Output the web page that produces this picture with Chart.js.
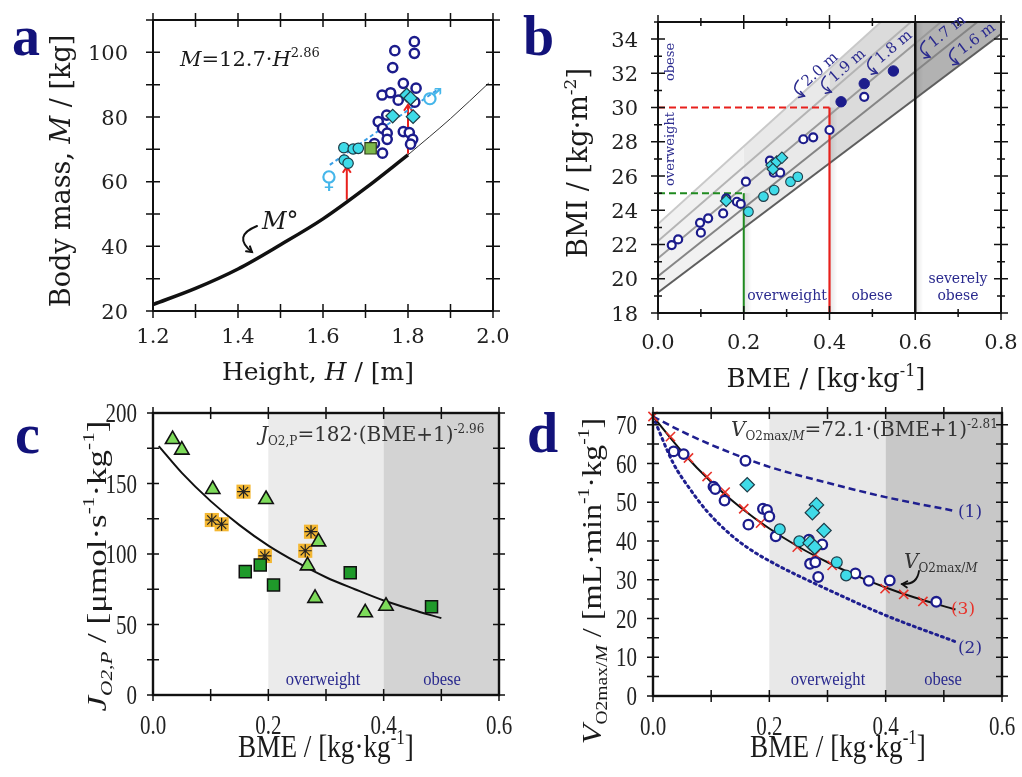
<!DOCTYPE html>
<html>
<head>
<meta charset="utf-8">
<script src="https://cdn.jsdelivr.net/npm/chart.js@4.4.1/dist/chart.umd.min.js"></script>
<style>
  html, body { margin: 0; background: #fff; }
  #wrap { position: relative; width: 1022px; height: 777px; overflow: hidden; background: #fff; }
  canvas { position: absolute; left: 0; top: 0; }
</style>
</head>
<body>
<div id="wrap">
  <canvas id="chartA" width="1022" height="777"></canvas>
  <canvas id="chartB" width="1022" height="777"></canvas>
  <canvas id="chartC" width="1022" height="777"></canvas>
  <canvas id="chartD" width="1022" height="777"></canvas>
</div>
<script>
// ---- panel a: body mass vs height ----
const aXTicks = [1.2, 1.3, 1.4, 1.5, 1.6, 1.7, 1.8, 1.9, 2.0];
const aXLabels = ['1.2', '1.4', '1.6', '1.8', '2.0'];
const aYTicks = [20, 30, 40, 50, 60, 70, 80, 90, 100, 110];
const aYLabels = ['20', '40', '60', '80', '100'];
const aCurveH = [1.2, 1.3, 1.4, 1.5, 1.6, 1.7, 1.8];
const aCurveM = [22, 27, 33, 40.5, 48.5, 58, 68.3];
const aTailH = [1.8, 1.9, 1.99];
const aTailM = [68.3, 79.5, 90.5];
const aOpenH = [1.815, 1.769, 1.815, 1.764, 1.789, 1.739, 1.759, 1.819, 1.777, 1.816, 1.75, 1.73, 1.74, 1.751, 1.751, 1.789, 1.803, 1.811, 1.806, 1.721, 1.74];
const aOpenM = [103.3, 100.5, 99.7, 95.3, 90.4, 86.8, 87.5, 88.9, 85.2, 84.6, 80.6, 78.6, 76.5, 75, 73.1, 75.5, 75.2, 73.1, 71.6, 71.8, 68.8];
const aDiamondH = [1.797, 1.806, 1.764, 1.812];
const aDiamondM = [86.8, 85.8, 80.3, 80.1];
const aCyanH = [1.649, 1.671, 1.683, 1.65, 1.659];
const aCyanM = [70.5, 70.1, 70.3, 66.7, 65.7];
const aSquareH = [1.712];
const aSquareM = [70.3];
const aTrendH = [1.616, 1.871];
const aTrendM = [65.2, 88.6];
const aArrowH = [1.656, 1.8];
const aArrowFrom = [54.4, 68.6];
const aArrowTo = [64.6, 83.8];

// ---- panel b: BMI vs BME ----
const bXTicks = [0, 0.1, 0.2, 0.3, 0.4, 0.5, 0.6, 0.7, 0.8];
const bXLabels = ['0.0', '0.2', '0.4', '0.6', '0.8'];
const bYTicks = [18, 19, 20, 21, 22, 23, 24, 25, 26, 27, 28, 29, 30, 31, 32, 33, 34, 35];
const bYLabels = ['18', '20', '22', '24', '26', '28', '30', '32', '34'];
const bHeights = ['2.0 m', '1.9 m', '1.8 m', '1.7 m', '1.6 m'];
const bLineX = [[0, 0.52], [0, 0.59], [0, 0.66], [0, 0.745], [0, 0.8]];
const bLineY = [[23.2, 35], [22.2, 35], [21.2, 35], [20.15, 35], [19.2, 34.3]];
const bZones = [0, 0.2, 0.4, 0.6, 0.8];
const bCutX = [0.2, 0.4];
const bCutY = [25, 30];
const bSevere = 0.6;
const bOpenX = [0.032, 0.047, 0.098, 0.117, 0.1, 0.152, 0.184, 0.193, 0.205, 0.261, 0.27, 0.285, 0.339, 0.362, 0.4, 0.481, 0.159];
const bOpenY = [21.97, 22.3, 23.27, 23.53, 22.69, 23.82, 24.5, 24.37, 25.67, 26.9, 26.2, 26.2, 28.15, 28.26, 28.69, 30.63, 24.7];
const bFullX = [0.427, 0.481, 0.549];
const bFullY = [30.34, 31.4, 32.14];
const bCyanX = [0.211, 0.246, 0.271, 0.309, 0.326];
const bCyanY = [23.92, 24.8, 25.18, 25.67, 25.96];
const bDiamondX = [0.159, 0.265, 0.277, 0.289, 0.268];
const bDiamondY = [24.55, 26.64, 26.84, 27.07, 26.4];

// ---- panel c: JO2,P vs BME ----
const cXTicks = [0, 0.1, 0.2, 0.3, 0.4, 0.5, 0.6];
const cXLabels = ['0.0', '0.2', '0.4', '0.6'];
const cYTicks = [0, 25, 50, 75, 100, 125, 150, 175, 200];
const cYLabels = ['0', '50', '100', '150', '200'];
const cBands = [0.2, 0.4, 0.6];
const cFitX = [0.01, 0.05, 0.1, 0.15, 0.2, 0.25, 0.3, 0.35, 0.4, 0.45, 0.5];
const cFitY = [176.5, 157.5, 137.5, 120.5, 106, 94, 83.5, 75, 67, 60.5, 54.5];
const cTriX = [0.034, 0.05, 0.1035, 0.196, 0.287, 0.268, 0.281, 0.368, 0.404];
const cTriY = [181.3, 173.8, 145.9, 138.8, 108.7, 91.7, 68.6, 58.4, 63.1];
const cSqX = [0.16, 0.186, 0.209, 0.342, 0.483];
const cSqY = [87.5, 92.2, 78, 86.7, 62.6];
const cStarX = [0.157, 0.102, 0.119, 0.194, 0.274, 0.264];
const cStarY = [144.2, 124.1, 121.1, 98.6, 115.8, 102.3];

// ---- panel d: VO2max/M vs BME ----
const dXTicks = [0, 0.1, 0.2, 0.3, 0.4, 0.5, 0.6];
const dXLabels = ['0.0', '0.2', '0.4', '0.6'];
const dYTicks = [0, 5, 10, 15, 20, 25, 30, 35, 40, 45, 50, 55, 60, 65, 70];
const dYLabels = ['0', '10', '20', '30', '40', '50', '60', '70'];
const dBands = [0.2, 0.4, 0.6];
const dFitX = [0, 0.05, 0.1, 0.15, 0.2, 0.25, 0.3, 0.35, 0.4, 0.45, 0.52];
const dFitY = [72.1, 63, 55.2, 48.7, 43.2, 38.5, 34.5, 31, 28, 25.4, 22.3];
const d1X = [0, 0.05, 0.1, 0.15, 0.2, 0.3, 0.4, 0.52];
const d1Y = [72.1, 68.2, 64.8, 61.8, 59.1, 55, 51.3, 47.7];
const d2X = [0, 0.035, 0.064, 0.092, 0.132, 0.167, 0.213, 0.3, 0.4, 0.52];
const d2Y = [72.1, 60, 53.3, 47.8, 41.8, 37.8, 33.8, 27.5, 20.8, 14];
const dCrossX = [0, 0.03, 0.061, 0.093, 0.124, 0.156, 0.185, 0.248, 0.279, 0.308, 0.399, 0.431, 0.464];
const dCrossY = [72.1, 66.9, 61.4, 56.6, 52.6, 48.3, 44.6, 38.4, 36.5, 33.7, 27.7, 26.2, 24.4];
const dOpenX = [0.0355, 0.0527, 0.159, 0.104, 0.107, 0.123, 0.189, 0.196, 0.2, 0.164, 0.211, 0.268, 0.291, 0.27, 0.279, 0.284, 0.348, 0.371, 0.407, 0.487];
const dOpenY = [63.1, 62.4, 60.7, 54, 53.4, 50.4, 48.3, 48, 46.3, 44.2, 41.2, 40.3, 39.1, 34.1, 34.5, 30.7, 31.6, 29.7, 29.8, 24.3];
const dCyanX = [0.218, 0.2515, 0.316, 0.332];
const dCyanY = [43, 39.9, 34.5, 31.1];
const dDiamondX = [0.162, 0.281, 0.274, 0.294, 0.27, 0.278];
const dDiamondY = [54.5, 49.3, 47.3, 42.7, 39.5, 38.4];

const W = 1022, H = 777;
const SERIF = '"DejaVu Serif", serif';
const TIMES = '"Liberation Serif", serif';
const NAVY = '#1c1c8c';
const CYAN = '#3fdbe8';
const INK = '#1a1a1a';

const pts = (xs, ys) => xs.map((x, i) => ({ x, y: ys[i] }));

function lineDs(xs, ys, color, width, extra) {
  return Object.assign({ data: pts(xs, ys), showLine: true, borderColor: color, borderWidth: width,
    pointRadius: 0, fill: false }, extra || {});
}
function markDs(xs, ys, style, r, bg, border, bw) {
  return { data: pts(xs, ys), showLine: false, pointStyle: style, pointRadius: r,
    backgroundColor: bg, borderColor: border, borderWidth: bw, clip: false };
}

// text with italic / sub / sup pieces: flags i = italic, d = subscript, u = superscript, B = bold
function rich(ctx, segs, x, y, o) {
  const size = o.size, fam = o.family || SERIF;
  const fontOf = f => (f.includes('i') ? 'italic ' : '') + (f.includes('B') ? 'bold ' : '') +
    Math.round((f.includes('d') || f.includes('u')) ? size * 0.62 : size) + 'px ' + fam;
  ctx.save();
  ctx.translate(x, y);
  if (o.rot) ctx.rotate(o.rot);
  if (o.sx) ctx.scale(o.sx, 1);
  let w = 0;
  const parts = segs.map(s => {
    const f = s[1] || '';
    ctx.font = fontOf(f);
    const m = ctx.measureText(s[0]).width;
    w += m;
    return { t: s[0], f, m, c: s[2] };
  });
  let cx = o.align === 'center' ? -w / 2 : o.align === 'right' ? -w : 0;
  ctx.textAlign = 'left';
  ctx.textBaseline = 'alphabetic';
  parts.forEach(p => {
    ctx.font = fontOf(p.f);
    ctx.fillStyle = p.c || o.color || INK;
    const dy = p.f.includes('d') ? size * 0.22 : p.f.includes('u') ? -size * 0.42 : 0;
    ctx.fillText(p.t, cx, dy);
    cx += p.m;
  });
  ctx.restore();
}

function hook(ctx, p, color, w) {
  ctx.save();
  ctx.strokeStyle = color;
  ctx.lineWidth = w || 1.6;
  ctx.lineCap = 'round';
  ctx.beginPath();
  ctx.moveTo(p[0], p[1]);
  ctx.quadraticCurveTo(p[2], p[3], p[4], p[5]);
  ctx.stroke();
  const ang = Math.atan2(p[5] - p[3], p[4] - p[2]), h = 6;
  ctx.beginPath();
  ctx.moveTo(p[4] - h * Math.cos(ang - 0.55), p[5] - h * Math.sin(ang - 0.55));
  ctx.lineTo(p[4], p[5]);
  ctx.lineTo(p[4] - h * Math.cos(ang + 0.55), p[5] - h * Math.sin(ang + 0.55));
  ctx.stroke();
  ctx.restore();
}

function isMajor(labels, v) {
  return labels.some(l => Math.abs(parseFloat(l) - v) < 1e-9);
}

// frame, mirrored ticks and tick labels
function drawAxes(c, xa, ya) {
  const { ctx, chartArea: a, scales: { x, y } } = c;
  ctx.save();
  ctx.strokeStyle = '#111';
  ctx.lineWidth = xa.frame;
  ctx.strokeRect(a.left, a.top, a.right - a.left, a.bottom - a.top);
  ctx.lineWidth = 1.5;
  ctx.beginPath();
  xa.ticks.forEach(v => {
    const p = x.getPixelForValue(v), L = isMajor(xa.labels, v) ? xa.len : xa.minor;
    ctx.moveTo(p, a.bottom + L); ctx.lineTo(p, a.bottom - L);
    ctx.moveTo(p, a.top - L); ctx.lineTo(p, a.top + L);
  });
  ya.ticks.forEach(v => {
    const p = y.getPixelForValue(v), L = isMajor(ya.labels, v) ? ya.len : ya.minor;
    ctx.moveTo(a.left - L, p); ctx.lineTo(a.left + L, p);
    ctx.moveTo(a.right - L, p); ctx.lineTo(a.right + L, p);
  });
  ctx.stroke();
  xa.labels.forEach(l => {
    rich(ctx, [[l]], x.getPixelForValue(parseFloat(l)), a.bottom + xa.off,
      { size: xa.size, family: xa.family, sx: xa.sx, align: 'center', color: '#222' });
  });
  ya.labels.forEach(l => {
    rich(ctx, [[l]], a.left - ya.off, y.getPixelForValue(parseFloat(l)) + ya.size * ya.mid,
      { size: ya.size, family: ya.family, sx: ya.sx, align: 'right', color: '#222' });
  });
  ctx.restore();
}

function makeChart(id, area, datasets, xa, ya, under, over) {
  datasets.forEach((d, i) => { d.order = datasets.length - i; });
  return new Chart(document.getElementById(id), {
    type: 'scatter',
    data: { datasets },
    options: {
      responsive: false,
      animation: false,
      events: [],
      layout: { padding: { left: area[0], top: area[1], right: W - area[2], bottom: H - area[3] } },
      plugins: { legend: { display: false }, tooltip: { enabled: false } },
      scales: {
        x: { type: 'linear', display: false, min: xa.min, max: xa.max },
        y: { type: 'linear', display: false, min: ya.min, max: ya.max }
      }
    },
    plugins: [{
      id: 'deco',
      beforeDatasetsDraw(ch) { if (under) under(ch); },
      afterDatasetsDraw(ch) { drawAxes(ch, xa, ya); if (over) over(ch); }
    }]
  });
}

function bands(ch, edges, colors) {
  const { ctx, chartArea: a, scales: { x } } = ch;
  for (let i = 0; i < edges.length - 1; i++) {
    const x0 = x.getPixelForValue(edges[i]), x1 = x.getPixelForValue(edges[i + 1]);
    ctx.fillStyle = colors[i];
    ctx.fillRect(x0, a.top, x1 - x0, a.bottom - a.top);
  }
}

const upperX = (min, max, ticks, labels, off) => ({ min, max, ticks, labels, off, len: 6, minor: 6, frame: 2, size: 21, family: SERIF, sx: 1 });
const lowerAxis = (min, max, ticks, labels, off) => ({ min, max, ticks, labels, off, len: 6, minor: 6, frame: 2.4, size: 28, family: TIMES, sx: 0.75, mid: 0.33 });

// ---------- panel a ----------
makeChart('chartA', [153, 20, 493, 311], [
  lineDs(aCurveH, aCurveM, '#111', 3.5, { tension: 0.4, cubicInterpolationMode: 'monotone' }),
  lineDs(aTailH, aTailM, '#333', 1, { tension: 0.4, cubicInterpolationMode: 'monotone' }),
  lineDs(aTrendH, aTrendM, '#3a9fe6', 2, { borderDash: [4, 3] }),
  markDs(aOpenH, aOpenM, 'circle', 4.6, '#fff', NAVY, 2.5),
  markDs(aSquareH, aSquareM, 'rect', 8, '#7cb84b', '#2b3a1a', 1.2),
  markDs(aCyanH, aCyanM, 'circle', 5.2, CYAN, '#1d3c48', 1.2),
  markDs(aDiamondH, aDiamondM, 'rectRot', 6.8, CYAN, '#1d3c48', 1.2)
],
Object.assign(upperX(1.2, 2.0, aXTicks, aXLabels, 32), { len: 7, minor: 7 }),
Object.assign(upperX(20, 110, aYTicks, aYLabels, 25), { len: 7, minor: 7, mid: 0.36 }),
ch => {
  const { ctx, scales: { x, y } } = ch;
  ctx.save();
  ctx.strokeStyle = '#e8201c';
  ctx.lineWidth = 2;
  aArrowH.forEach((h, i) => {
    const px = x.getPixelForValue(h), y0 = y.getPixelForValue(aArrowFrom[i]), y1 = y.getPixelForValue(aArrowTo[i]);
    ctx.beginPath();
    ctx.moveTo(px, y0); ctx.lineTo(px, y1);
    ctx.moveTo(px - 4, y1 + 6); ctx.lineTo(px, y1); ctx.lineTo(px + 4, y1 + 6);
    ctx.stroke();
  });
  ctx.restore();
},
ch => {
  const ctx = ch.ctx;
  rich(ctx, [['M', 'i'], ['=12.7·'], ['H', 'i'], ['2.86', 'u']], 180, 66, { size: 21 });
  rich(ctx, [['M', 'i'], ['°']], 262, 229, { size: 24 });
  hook(ctx, [257, 226, 232, 236, 252, 252], '#111', 2);
  ctx.save();
  ctx.font = '24px "DejaVu Sans"';
  ctx.fillStyle = '#45b6ea';
  ctx.textAlign = 'center';
  ctx.fillText('♀', 329, 188);
  ctx.fillText('♂', 432, 105);
  ctx.restore();
  rich(ctx, [['Height, '], ['H', 'i'], [' / [m]']], 318, 380, { size: 25, align: 'center' });
  rich(ctx, [['Body mass, '], ['M', 'i'], [' / [kg]']], 70, 171, { size: 27, align: 'center', rot: -Math.PI / 2 });
  rich(ctx, [['a', 'B']], 12, 55, { size: 56, family: TIMES, color: '#12127a' });
});

// ---------- panel b ----------
const bLineColors = ['#c9c9c9', '#b4b4b4', '#9a9a9a', '#858585', '#5e5e5e'];
makeChart('chartB', [658, 22, 1001, 313], [
  ...bLineX.map((xs, i) => lineDs(xs, bLineY[i], bLineColors[i], 2)),
  lineDs([0, bCutX[0]], [bCutY[0], bCutY[0]], '#1f8a1f', 2, { borderDash: [7, 4] }),
  lineDs([0, bCutX[1]], [bCutY[1], bCutY[1]], '#e8201c', 2, { borderDash: [7, 4] }),
  lineDs([bCutX[0], bCutX[0]], [18, bCutY[0]], '#1f8a1f', 2),
  lineDs([bCutX[1], bCutX[1]], [18, bCutY[1]], '#e8201c', 2.2),
  lineDs([bSevere, bSevere], [18, 35], '#111', 2.5),
  markDs(bOpenX, bOpenY, 'circle', 4, '#fff', NAVY, 2.2),
  markDs(bFullX, bFullY, 'circle', 5.2, NAVY, NAVY, 1),
  markDs(bCyanX, bCyanY, 'circle', 4.8, CYAN, '#1d3c48', 1.1),
  markDs(bDiamondX, bDiamondY, 'rectRot', 5.8, CYAN, '#1d3c48', 1.1)
],
Object.assign(upperX(0, 0.8, bXTicks, bXLabels, 36), { len: 7, minor: 4 }),
Object.assign(upperX(18, 35, bYTicks, bYLabels, 20), { len: 7, minor: 4, mid: 0.36 }),
ch => {
  const { ctx, chartArea: a, scales: { x, y } } = ch;
  const lo = 4, hi = 0;
  const poly = () => {
    ctx.beginPath();
    ctx.moveTo(x.getPixelForValue(bLineX[lo][0]), y.getPixelForValue(bLineY[lo][0]));
    ctx.lineTo(x.getPixelForValue(bLineX[lo][1]), y.getPixelForValue(bLineY[lo][1]));
    ctx.lineTo(a.right, a.top);
    ctx.lineTo(x.getPixelForValue(bLineX[hi][1]), y.getPixelForValue(bLineY[hi][1]));
    ctx.lineTo(x.getPixelForValue(bLineX[hi][0]), y.getPixelForValue(bLineY[hi][0]));
    ctx.closePath();
  };
  const shades = ['#f1f1f1', '#e9e9e9', '#dbdbdb', '#b2b2b2'];
  for (let i = 0; i < bZones.length - 1; i++) {
    const x0 = x.getPixelForValue(bZones[i]), x1 = x.getPixelForValue(bZones[i + 1]);
    ctx.save();
    ctx.beginPath();
    ctx.rect(x0, a.top, x1 - x0, a.bottom - a.top);
    ctx.clip();
    poly();
    ctx.fillStyle = shades[i];
    ctx.fill();
    ctx.restore();
  }
  // soft shadow to the right of the cut-off lines
  [[bCutX[0], bCutY[0]], [bCutX[1], bCutY[1]], [bSevere, 35]].forEach(([v, top]) => {
    const px = x.getPixelForValue(v), py = y.getPixelForValue(top);
    const g = ctx.createLinearGradient(px, 0, px + 8, 0);
    g.addColorStop(0, 'rgba(0,0,0,0.10)');
    g.addColorStop(1, 'rgba(0,0,0,0)');
    ctx.fillStyle = g;
    ctx.fillRect(px, py, 8, a.bottom - py);
  });
},
ch => {
  const ctx = ch.ctx;
  const t = { size: 13, color: '#2a2a8e', align: 'center', rot: -Math.PI / 2 };
  rich(ctx, [['obese']], 674, 62, t);
  rich(ctx, [['overweight']], 674, 149, t);
  const s = { size: 14, color: '#2a2a8e', align: 'center' };
  rich(ctx, [['overweight']], 787, 300, s);
  rich(ctx, [['obese']], 872, 300, s);
  rich(ctx, [['severely']], 958, 283, s);
  rich(ctx, [['obese']], 958, 300, s);
  const anchors = [[807, 87, -42], [834, 83, -41], [880, 64, -40], [933, 48, -38.5], [962, 55, -37]];
  anchors.forEach((p, i) => {
    const r = p[2] * Math.PI / 180;
    rich(ctx, [[bHeights[i]]], p[0], p[1], { size: 15, color: '#2a2a8e', rot: r });
    ctx.save();
    ctx.translate(p[0], p[1]);
    ctx.rotate(r);
    hook(ctx, [-2, -11, -16, -9, -8, 5], '#2a2a8e', 1.5);
    ctx.restore();
  });
  rich(ctx, [['BME / [kg·kg'], ['-1', 'u'], [']']], 826, 387, { size: 26, align: 'center' });
  rich(ctx, [['BMI / [kg·m'], ['-2', 'u'], [']']], 587, 163, { size: 27, align: 'center', rot: -Math.PI / 2 });
  rich(ctx, [['b', 'B']], 523, 55, { size: 56, family: TIMES, color: '#12127a' });
});

// ---------- panel c ----------
makeChart('chartC', [153, 413, 499, 695], [
  lineDs(cFitX, cFitY, '#111', 2, { tension: 0.4, cubicInterpolationMode: 'monotone' }),
  markDs(cStarX, cStarY, 'rect', 10, '#f4b731', '#f4b731', 0),
  markDs(cStarX, cStarY, 'star', 6.5, 'transparent', '#222', 1.2),
  markDs(cSqX, cSqY, 'rect', 8.5, '#1f9a2a', '#111', 1.5),
  markDs(cTriX, cTriY, 'triangle', 8.3, '#7ddb5a', '#111', 1.6)
],
lowerAxis(0, 0.6, cXTicks, cXLabels, 39),
lowerAxis(0, 200, cYTicks, cYLabels, 16),
ch => bands(ch, cBands, ['#ebebeb', '#d3d3d3']),
ch => {
  const ctx = ch.ctx;
  rich(ctx, [['overweight']], 323, 685, { size: 18, family: TIMES, sx: 0.92, color: '#2a2a8e', align: 'center' });
  rich(ctx, [['obese']], 442, 685, { size: 18, family: TIMES, sx: 0.92, color: '#2a2a8e', align: 'center' });
  rich(ctx, [['J', 'i'], ['O2,P', 'd'], ['=182·(BME+1)'], ['-2.96', 'u']], 260, 441, { size: 20, color: '#333' });
  rich(ctx, [['BME / [kg·kg'], ['-1', 'u'], [']']], 326, 757, { size: 32, family: TIMES, sx: 0.85, align: 'center' });
  rich(ctx, [['J', 'i'], ['O2,P', 'id'], [' / [μmol·s'], ['-1', 'u'], ['·kg'], ['-1', 'u'], [']']], 106, 566,
    { size: 28, family: TIMES, sx: 1.25, align: 'center', rot: -Math.PI / 2 });
  rich(ctx, [['c', 'B']], 15, 453, { size: 56, family: TIMES, color: '#12127a' });
});

// ---------- panel d ----------
makeChart('chartD', [653, 413, 1002, 696], [
  lineDs(d1X, d1Y, '#1f1f8f', 2.5, { borderDash: [7, 4], tension: 0.4, cubicInterpolationMode: 'monotone' }),
  lineDs(d2X, d2Y, '#1f1f8f', 3, { borderDash: [2, 4], borderCapStyle: 'round', tension: 0.4, cubicInterpolationMode: 'monotone' }),
  lineDs(dFitX, dFitY, '#111', 2, { tension: 0.4, cubicInterpolationMode: 'monotone' }),
  markDs(dCrossX, dCrossY, 'crossRot', 6.5, '#e8322a', '#e8322a', 1.6),
  markDs(dOpenX, dOpenY, 'circle', 4.8, '#fff', NAVY, 2.3),
  markDs(dCyanX, dCyanY, 'circle', 5.4, CYAN, '#1d3c48', 1.2),
  markDs(dDiamondX, dDiamondY, 'rectRot', 7.2, CYAN, '#1d3c48', 1.2)
],
lowerAxis(0, 0.6, dXTicks, dXLabels, 39),
lowerAxis(0, 73, dYTicks, dYLabels, 16),
ch => bands(ch, dBands, ['#e8e8e8', '#c8c8c8']),
ch => {
  const ctx = ch.ctx;
  rich(ctx, [['overweight']], 828, 685, { size: 18, family: TIMES, sx: 0.92, color: '#2a2a8e', align: 'center' });
  rich(ctx, [['obese']], 943, 685, { size: 18, family: TIMES, sx: 0.92, color: '#2a2a8e', align: 'center' });
  rich(ctx, [['V', 'i'], ['O2max/', 'd'], ['M', 'id'], ['=72.1·(BME+1)'], ['-2.81', 'u']], 731, 436, { size: 20, color: '#333' });
  rich(ctx, [['V', 'i'], ['O2max/', 'd'], ['M', 'id']], 904, 568, { size: 20, color: '#333' });
  hook(ctx, [919, 571, 917, 585, 902, 584], '#111', 1.8);
  rich(ctx, [['(1)']], 970, 517, { size: 17, color: '#2a2a8e', align: 'center' });
  rich(ctx, [['(3)']], 963, 614, { size: 17, color: '#e8322a', align: 'center' });
  rich(ctx, [['(2)']], 970, 653, { size: 17, color: '#2a2a8e', align: 'center' });
  rich(ctx, [['BME / [kg·kg'], ['-1', 'u'], [']']], 838, 757, { size: 32, family: TIMES, sx: 0.85, align: 'center' });
  rich(ctx, [['V', 'i'], ['O2max/', 'd'], ['M', 'id'], [' / [mL·min'], ['-1', 'u'], ['·kg'], ['-1', 'u'], [']']], 601, 581,
    { size: 28, family: TIMES, sx: 1.15, align: 'center', rot: -Math.PI / 2 });
  rich(ctx, [['d', 'B']], 527, 452, { size: 56, family: TIMES, color: '#12127a' });
});
</script>
</body>
</html>
